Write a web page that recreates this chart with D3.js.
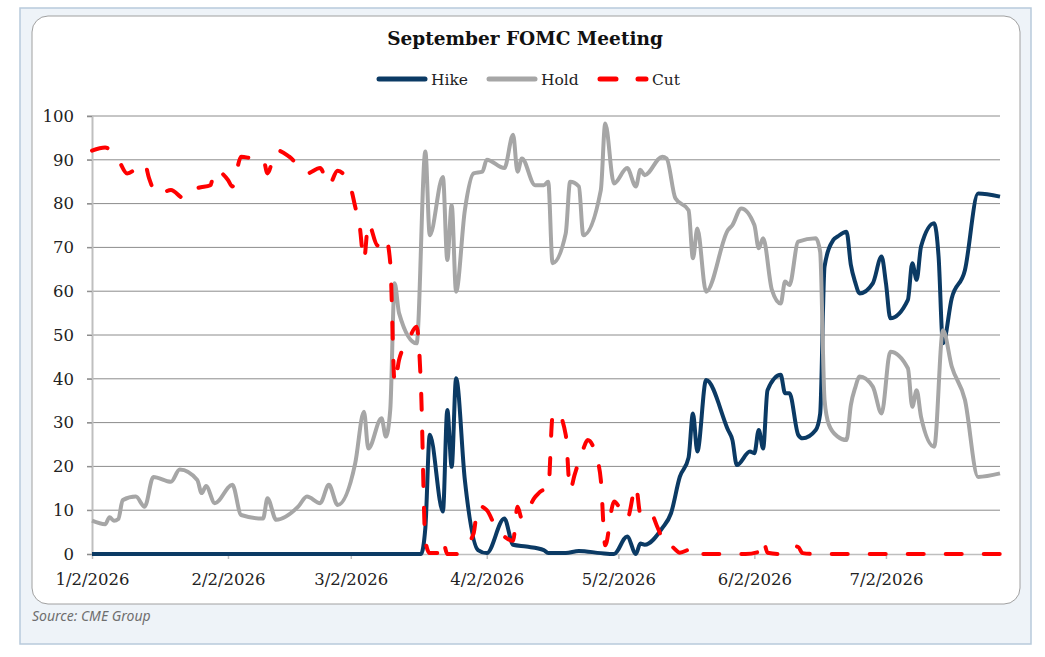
<!DOCTYPE html>
<html lang="en">
<head>
    <meta charset="UTF-8">
    <title>September FOMC Meeting</title>
    <script src="https://d3js.org/d3.v7.min.js"></script>
    <style>
        body { margin: 0; background-color: #ffffff; }
        svg { display: block; }
    </style>
</head>
<body>
    <svg></svg>

    <script>
        // Values (probabilities, %), dates as M/D in 2026
        const seriesNames = ["Hike", "Hold", "Cut"];
        const xTickLabels = ["1/2/2026", "2/2/2026", "3/2/2026", "4/2/2026", "5/2/2026", "6/2/2026", "7/2/2026"];
        const yTicks = [0, 10, 20, 30, 40, 50, 60, 70, 80, 90, 100];

        const hikeDates = ["1/2","3/18","3/19","3/20","3/23","3/24","3/25","3/26","3/28","3/31","4/2","4/6","4/8","4/11",
            "4/15","4/16","4/20","4/23","4/28","5/1","5/4","5/6","5/7","5/8","5/12","5/14","5/16","5/18","5/19","5/20",
            "5/22","5/27","5/28","5/29","6/1","6/2","6/3","6/4","6/5","6/8","6/9","6/10","6/12","6/13","6/16","6/17",
            "6/18","6/20","6/21","6/23","6/24","6/25","6/26","6/29","7/1","7/2","7/3","7/7","7/8","7/9","7/10","7/13",
            "7/14","7/15","7/17","7/20","7/23","7/28"];
        const hikeValues = [0, 0, 6, 27.2, 9.7, 32.9, 19.9, 40.1, 16.9, 0.9, 0.2, 8.1, 2.1, 1.7,
            0.9, 0.2, 0.2, 0.7, 0.2, 0, 4.0, 0, 2.4, 2.1, 5.9, 9.3, 17.6, 22, 32.1, 23.4,
            39.7, 28.3, 26.0, 20.3, 23.4, 23.0, 28.3, 24.1, 37.4, 40.9, 36.7, 36.7, 27.2, 26.4, 28.3, 32,
            65.6, 71.7, 72.5, 73.6, 66.0, 62, 59.5, 61.8, 67.9, 61.8, 53.8, 58.0, 66.4, 62.6, 70.2, 75.5,
            67.9, 48.1, 58.4, 64.8, 82.3, 81.6];

        const holdDates = ["1/2","1/5","1/6","1/7","1/8","1/9","1/12","1/14","1/16","1/20","1/22","1/26","1/27","1/28",
            "1/30","2/3","2/5","2/10","2/11","2/13","2/18","2/20","2/23","2/25","2/27","3/3","3/5","3/6","3/9","3/10",
            "3/11","3/12","3/13","3/17","3/19","3/20","3/23","3/24","3/25","3/26","3/28","3/30","4/1","4/2","4/6",
            "4/8","4/9","4/10","4/13","4/15","4/16","4/17","4/20","4/21","4/23","4/24","4/28","4/29","5/1","5/4",
            "5/6","5/7","5/8","5/12","5/13","5/15","5/18","5/19","5/20","5/22","5/27","5/28","5/30","6/2","6/3",
            "6/4","6/6","6/8","6/9","6/10","6/12","6/16","6/17","6/18","6/19","6/21","6/23","6/24","6/25","6/26",
            "6/29","7/1","7/3","7/7","7/8","7/9","7/10","7/13","7/15","7/17","7/20","7/23","7/28"];
        const holdValues = [7.6, 6.8, 8.4, 7.6, 8.0, 12.3, 13.1, 10.8, 17.6, 16.5, 19.3, 16.9, 13.9, 15.5,
            11.6, 15.8, 8.9, 8.1, 12.7, 7.8, 10.8, 13.1, 11.6, 15.8, 11.2, 20.7, 32.5, 24.1, 31.0, 26.8,
            33, 61.8, 55, 48.1, 91.9, 72.8, 86.1, 67.1, 79.7, 59.9, 78.5, 86.9, 87.3, 90.0, 88.1,
            95.7, 87.3, 90.3, 84.2, 84.2, 85.0, 66.4, 73.2, 85.0, 83.9, 72.8, 83.1, 98.3, 84.6, 88.1,
            83.9, 87.7, 86.5, 90.7, 90.3, 81.2, 78.5, 67.5, 74.3, 59.9, 74.0, 75.1, 78.9, 75.1, 69.8,
            72.1, 60.3, 57.2, 62.2, 61.4, 71.3, 72.1, 69, 35.2, 29.5, 26.8, 26.0, 34, 38, 40.5,
            38.2, 32.1, 46.2, 42.4, 33.6, 37.4, 31.3, 24.5, 51.1, 42.8, 35.2, 17.6, 18.4];

        const cutDates = ["1/2","1/5","1/8","1/10","1/14","1/15","1/17","1/20","1/23","1/26","1/29","1/30","2/2","2/3",
            "2/5","2/8","2/10","2/11","2/13","2/16","2/20","2/23","2/25","2/27","3/2","3/3","3/4","3/5","3/6","3/8",
            "3/9","3/10","3/11","3/12","3/13","3/15","3/17","3/18","3/19","3/20","3/22","3/23","3/24","3/26","3/28",
            "3/30","3/31","4/2","4/4","4/6","4/8","4/9","4/10","4/13","4/15","4/16","4/17","4/18","4/20","4/21",
            "4/22","4/24","4/25","4/27","4/28","4/29","5/1","5/4","5/6","5/7","5/9","5/11","5/13","5/14","5/16",
            "5/18","5/20","5/21","5/25","5/31","6/3","6/4","6/5","6/8","6/10","6/11","6/12","6/13","6/16","7/28"];
        const cutValues = [92.1, 92.8, 90.0, 86.9, 89.2, 85.8, 82.0, 83.1, 81.2, 83.5, 84.2, 87.7, 85.4, 83.9,
            90.7, 90.3, 90.3, 86.9, 92.2, 90.7, 86.9, 88.1, 84.2, 87.5, 83.5, 79.3, 75, 67.1, 75.5, 70.5,
            70.2, 72, 66.4, 39, 44.3, 48.5, 51.9, 38, 3, 0.2, 0.2, 3, 0, 0, 1.7,
            4.7, 11, 10.0, 6.2, 4.0, 3, 10.8, 8.1, 13, 14.6, 14.6, 31.5, 32.5, 27.2, 14.6,
            18, 24, 26, 22.2, 16.9, 2, 12, 8, 15.5, 9.3, 10.0, 5.9, 1.7, 1.7, 0.3,
            1.0, 1.8, 0, 0, 0, 0.5, 3.2, 0.3, 0, 1.2, 1.8, 1.6, 0.2, 0, 0];

        const colors = { Hike: "#0b3a64", Hold: "#a6a6a6", Cut: "#ff0000" };

        let width = 1045, height = 657;
        let svg = d3.select("svg")
            .attr("width", width)
            .attr("height", height);

        let parseDay = d3.utcParse("%m/%d/%Y");
        let toPoints = (dates, values) => dates.map((d, i) => ({ date: parseDay(d + "/2026"), value: values[i] }));

        let series = [
            { name: "Hike", points: toPoints(hikeDates, hikeValues) },
            { name: "Hold", points: toPoints(holdDates, holdValues) },
            { name: "Cut", points: toPoints(cutDates, cutValues) }
        ];

        // frame: outer panel + rounded white card
        svg.append("rect")
            .attr("x", 20).attr("y", 8)
            .attr("width", 1011).attr("height", 636)
            .attr("fill", "#eef3f8")
            .attr("stroke", "#b8cadb")
            .attr("stroke-width", 1.5);
        svg.append("rect")
            .attr("x", 32).attr("y", 16)
            .attr("width", 988).attr("height", 588)
            .attr("rx", 16)
            .attr("fill", "#ffffff")
            .attr("stroke", "#a0a0a0")
            .attr("stroke-width", 1);

        svg.append("text")
            .attr("x", 32).attr("y", 621)
            .attr("font-family", "'Noto Sans', sans-serif")
            .attr("font-style", "italic")
            .attr("font-size", 14)
            .attr("fill", "#6e6e6e")
            .text("Source: CME Group");

        svg.append("text")
            .attr("x", 525).attr("y", 45)
            .attr("text-anchor", "middle")
            .attr("font-family", "'DejaVu Serif', serif")
            .attr("font-weight", "bold")
            .attr("font-size", 18.5)
            .attr("fill", "#111")
            .text("September FOMC Meeting");

        // scales
        let x = d3.scaleUtc()
            .domain([parseDay("1/2/2026"), parseDay("7/28/2026")])
            .range([92, 1000]);
        let y = d3.scaleLinear()
            .domain([0, 100])
            .range([554, 116]);

        // gridlines
        svg.append("g")
            .selectAll("line")
            .data(yTicks.filter(t => t > 0))
            .enter()
            .append("line")
            .attr("x1", 87).attr("x2", 1000)
            .attr("y1", d => y(d)).attr("y2", d => y(d))
            .attr("stroke", "#8c8c8c")
            .attr("stroke-width", 1);

        // y axis
        let yAxis = svg.append("g")
            .attr("transform", "translate(92,0)")
            .call(d3.axisLeft(y).tickValues(yTicks).tickSize(5).tickPadding(13));
        yAxis.select(".domain").attr("stroke", "#bfbfbf").attr("stroke-width", 2);
        yAxis.selectAll(".tick line").attr("stroke", "#8c8c8c");
        yAxis.selectAll("text")
            .attr("font-family", "'DejaVu Serif', serif")
            .attr("font-size", 16.5)
            .attr("fill", "#222");

        // x axis
        let xAxis = svg.append("g")
            .attr("transform", "translate(0,554)")
            .call(d3.axisBottom(x)
                .tickValues(xTickLabels.map(parseDay))
                .tickFormat(d => (d.getUTCMonth() + 1) + "/" + d.getUTCDate() + "/" + d.getUTCFullYear())
                .tickSize(5)
                .tickPadding(14)
                .tickSizeOuter(0));
        xAxis.select(".domain").attr("stroke", "#bfbfbf").attr("stroke-width", 1.5);
        xAxis.selectAll(".tick line").attr("stroke", "#bfbfbf").attr("stroke-width", 1.5);
        xAxis.selectAll("text")
            .attr("font-family", "'DejaVu Serif', serif")
            .attr("font-size", 16.5)
            .attr("fill", "#222");

        // lines
        let line = d3.line()
            .x(d => x(d.date))
            .y(d => y(d.value))
            .curve(d3.curveMonotoneX);

        svg.append("g")
            .selectAll("path")
            .data(series)
            .enter()
            .append("path")
            .attr("d", d => line(d.points))
            .attr("fill", "none")
            .attr("stroke", d => colors[d.name])
            .attr("stroke-width", 4)
            .attr("stroke-linejoin", "round")
            .attr("stroke-linecap", d => d.name == "Cut" ? "round" : "butt")
            .attr("stroke-dasharray", d => d.name == "Cut" ? "16,22" : null);

        // legend
        let legendX = [379, 489, 600];
        let legend = svg.append("g")
            .selectAll("g")
            .data(seriesNames)
            .enter()
            .append("g")
            .attr("transform", (d, i) => "translate(" + legendX[i] + ",79)");
        legend.append("line")
            .attr("x1", 0).attr("x2", 46)
            .attr("stroke", d => colors[d])
            .attr("stroke-width", 5)
            .attr("stroke-linecap", "round")
            .attr("stroke-dasharray", d => d == "Cut" ? "16,22" : null);
        legend.append("text")
            .attr("x", d => d == "Cut" ? 52 : 52)
            .attr("dy", "0.36em")
            .attr("font-family", "'DejaVu Serif', serif")
            .attr("font-size", 15.5)
            .attr("fill", "#222")
            .text(d => d);
    </script>
</body>
</html>
